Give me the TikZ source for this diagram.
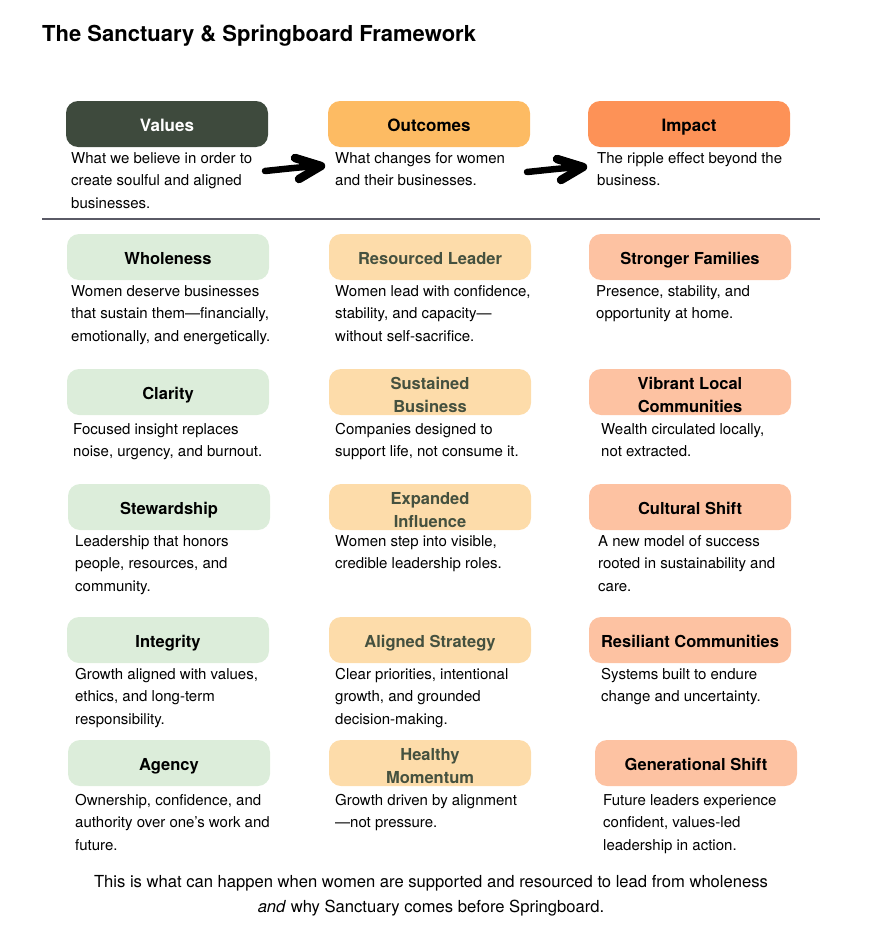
\documentclass[tikz,border=0pt]{standalone}
\usepackage{fontspec}
\setmainfont{TeX Gyre Heros}
\usepackage{tikz}
\usetikzlibrary{positioning, calc}
\definecolor{sanctdark}{HTML}{3E4A3D}
\definecolor{sanctgold}{HTML}{FDBB63}
\definecolor{sanctorange}{HTML}{FD9257}
\definecolor{sanctgreen}{HTML}{DCEDDA}
\definecolor{sanctcream}{HTML}{FDDCAA}
\definecolor{sanctsalmon}{HTML}{FDC2A2}
\definecolor{sanctlabel}{HTML}{45513F}
\definecolor{sanctrule}{HTML}{5A5A66}

\begin{document}
\begin{tikzpicture}[x=1pt, y=-1pt,
    box/.style={rounded corners=12pt, minimum width=202pt, minimum height=46pt, inner sep=0pt,
      align=center, text height=15pt, text depth=0pt, font=\fontsize{16.5}{23}\selectfont\bfseries},
    twoline/.style={text height=41pt, text depth=0pt},
    hdrbox/.style={box, font=\fontsize{17}{23}\selectfont\bfseries},
    valbox/.style={box, fill=sanctgreen, text=black},
    outbox/.style={box, fill=sanctcream, text=sanctlabel},
    impbox/.style={box, fill=sanctsalmon, text=black},
    desc/.style={anchor=north west, inner sep=0pt, align=left, font=\fontsize{15}{22.5}\selectfont},
    sketch/.style={line width=6.5pt, line cap=round, line join=round, black},
  ]
  \useasboundingbox (0,0) rectangle (875,934);

  \node[anchor=west, inner sep=0pt, font=\fontsize{22}{26}\selectfont\bfseries] (title) at (42,36)
    {The Sanctuary \& Springboard Framework};

  % column heads
  \node[hdrbox, fill=sanctdark, text=white] (values) at (167,124) {Values};
  \node[hdrbox, fill=sanctgold] (outcomes) at (429,124) {Outcomes};
  \node[hdrbox, fill=sanctorange] (impact) at (689,124) {Impact};

  \node[desc] (valuesdesc) at (71,152) {What we believe in order to\\create soulful and aligned\\businesses.};
  \node[desc] (outcomesdesc) at (335,152) {What changes for women\\and their businesses.};
  \node[desc] (impactdesc) at (597,152) {The ripple effect beyond the\\business.};

  % hand drawn arrows
  \coordinate (arrA) at (265,171);
  \coordinate (arrB) at (321,166);
  \coordinate (arrC) at (527,172);
  \coordinate (arrD) at (583,167);
  \draw[sketch] (arrA) .. controls (285,169) and (300,167) .. (arrB);
  \draw[sketch, line width=8.5pt] ($(arrB)+(-26,-8)$) -- (arrB) -- ($(arrB)+(-22,13)$);
  \draw[sketch] (arrC) .. controls (547,170) and (562,168) .. (arrD);
  \draw[sketch, line width=8.5pt] ($(arrD)+(-26,-8)$) -- (arrD) -- ($(arrD)+(-22,13)$);

  \coordinate (ruleL) at (42,219);
  \coordinate (ruleR) at (820,219);
  \draw[sanctrule, line width=1.2pt] (ruleL) -- (ruleR);

  % row 1
  \node[valbox] (wholeness) at (168,257) {Wholeness};
  \node[outbox] (leader) at (430,257) {Resourced Leader};
  \node[impbox] (families) at (690,257) {Stronger Families};
  \node[desc] (wholenessdesc) at (71,285) {Women deserve businesses\\that sustain them---financially,\\emotionally, and energetically.};
  \node[desc] (leaderdesc) at (335,285) {Women lead with confidence,\\stability, and capacity---\\without self-sacrifice.};
  \node[desc] (familiesdesc) at (596,285) {Presence, stability, and\\opportunity at home.};

  % row 2
  \node[valbox] (clarity) at (168,392) {Clarity};
  \node[outbox, twoline] (business) at (430,392) {Sustained\\Business};
  \node[impbox, twoline] (communities) at (690,392) {Vibrant Local\\Communities};
  \node[desc] (claritydesc) at (73,423) {Focused insight replaces\\noise, urgency, and burnout.};
  \node[desc] (businessdesc) at (335,423) {Companies designed to\\support life, not consume it.};
  \node[desc] (communitiesdesc) at (601,423) {Wealth circulated locally,\\not extracted.};

  % row 3
  \node[valbox] (stewardship) at (169,507) {Stewardship};
  \node[outbox, twoline] (influence) at (430,507) {Expanded\\Influence};
  \node[impbox] (culture) at (690,507) {Cultural Shift};
  \node[desc] (stewardshipdesc) at (75,535) {Leadership that honors\\people, resources, and\\community.};
  \node[desc] (influencedesc) at (335,535) {Women step into visible,\\credible leadership roles.};
  \node[desc] (culturedesc) at (598,535) {A new model of success\\rooted in sustainability and\\care.};

  % row 4
  \node[valbox] (integrity) at (168,640) {Integrity};
  \node[outbox] (strategy) at (430,640) {Aligned Strategy};
  \node[impbox] (resilient) at (690,640) {Resiliant Communities};
  \node[desc] (integritydesc) at (75,668) {Growth aligned with values,\\ethics, and long-term\\responsibility.};
  \node[desc] (strategydesc) at (335,668) {Clear priorities, intentional\\growth, and grounded\\decision-making.};
  \node[desc] (resilientdesc) at (601,668) {Systems built to endure\\change and uncertainty.};

  % row 5
  \node[valbox] (agency) at (169,763) {Agency};
  \node[outbox, twoline] (momentum) at (430,763) {Healthy\\Momentum};
  \node[impbox] (generations) at (696,763) {Generational Shift};
  \node[desc] (agencydesc) at (75,794) {Ownership, confidence, and\\authority over one's work and\\future.};
  \node[desc] (momentumdesc) at (335,794) {Growth driven by alignment\\---not pressure.};
  \node[desc] (generationsdesc) at (603,794) {Future leaders experience\\confident, values-led\\leadership in action.};

  \node[inner sep=0pt, align=center, font=\fontsize{16.6}{25}\selectfont] (footer) at (431,896)
    {This is what can happen when women are supported and resourced to lead from wholeness\\
     \textit{and} why Sanctuary comes before Springboard.};
\end{tikzpicture}
\end{document}
